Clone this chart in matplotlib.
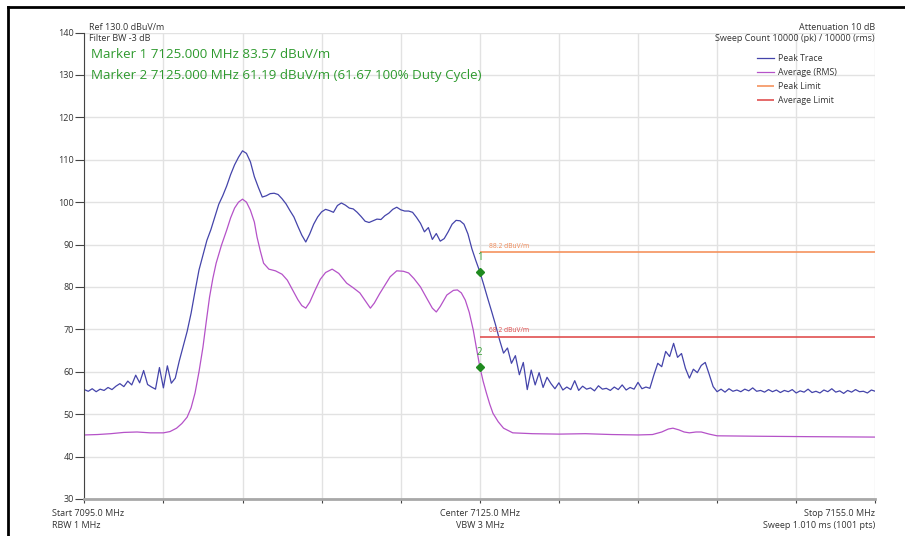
import matplotlib
matplotlib.use("Agg")
import matplotlib.pyplot as plt
import numpy as np
from matplotlib.lines import Line2D

plt.rcParams['font.family'] = ['Open Sans', 'DejaVu Sans']

# peak trace, read every 0.3 MHz from 7095 to 7155
peak_freq = [7095.0 + 0.3 * i for i in range(201)]
peak_level = [
    55.8, 55.4, 56.0, 55.3, 55.9, 55.6, 56.3, 55.8, 56.6, 57.2,
    56.5, 57.8, 56.9, 59.2, 57.4, 60.3, 57.0, 56.4, 55.9, 61.0,
    56.2, 61.4, 57.3, 58.5, 62.5, 66.0, 69.5, 73.8, 79.0, 84.0,
    87.5, 91.0, 93.5, 96.5, 99.5, 101.5, 103.8, 106.5, 108.8, 110.6,
    112.1, 111.5, 109.5, 106.0, 103.5, 101.2, 101.5, 102.0, 102.1, 101.8,
    100.8, 99.6, 98.0, 96.5, 94.3, 92.2, 90.6, 92.5, 94.8, 96.5,
    97.7, 98.3, 98.0, 97.6, 99.2, 99.8, 99.3, 98.6, 98.4, 97.6,
    96.6, 95.5, 95.2, 95.6, 96.0, 95.9, 96.8, 97.4, 98.3, 98.8,
    98.2, 97.9, 97.9, 97.6, 96.4, 95.0, 93.0, 94.0, 91.2, 92.6,
    90.8, 91.4, 93.0, 94.8, 95.7, 95.6, 94.8, 92.5, 89.0, 86.2,
    83.6, 80.5, 77.3, 74.2, 71.0, 67.5, 64.4, 65.6, 62.0, 63.8,
    59.3, 62.2, 55.8, 60.4, 56.9, 59.8, 56.3, 58.7, 57.2, 56.0,
    57.4, 55.7, 56.4, 55.8, 57.9, 55.6, 56.6, 55.9, 56.2, 55.5,
    56.7, 55.9, 56.1, 55.6, 56.4, 55.8, 56.9, 55.7, 56.3, 55.9,
    57.5, 56.0, 56.4, 56.1, 59.2, 62.0, 61.2, 64.8, 63.6, 66.7,
    63.4, 64.3, 60.8, 58.5, 60.6, 59.8, 61.5, 62.2, 59.4, 56.5,
    55.3, 55.9, 55.2, 56.0, 55.4, 55.7, 55.3, 55.9, 55.5, 56.2,
    55.4, 55.6, 55.2, 55.8, 55.3, 55.7, 55.1, 55.6, 55.3, 55.8,
    55.0, 55.5, 55.2, 55.9, 55.1, 55.4, 55.0, 55.7, 55.3, 56.0,
    55.2, 55.5, 54.9, 55.6, 55.2, 55.8, 55.3, 55.4, 55.0, 55.7,
    55.4,
]

# average (RMS) trace
avg_freq = [
    7095.0, 7096.0, 7097.0, 7098.0, 7099.0, 7100.0, 7101.0, 7101.5, 7102.0, 7102.4,
    7102.8, 7103.1, 7103.4, 7103.7, 7104.0, 7104.25, 7104.5, 7104.75, 7105.0, 7105.4,
    7105.8, 7106.1, 7106.4, 7106.7, 7107.0, 7107.3, 7107.6, 7107.9, 7108.1, 7108.35,
    7108.6, 7109.0, 7109.5, 7110.0, 7110.4, 7110.8, 7111.2, 7111.5, 7111.8, 7112.1,
    7112.5, 7112.9, 7113.3, 7113.8, 7114.3, 7114.9, 7115.4, 7115.9, 7116.3, 7116.7,
    7117.0, 7117.4, 7117.8, 7118.2, 7118.7, 7119.2, 7119.6, 7120.0, 7120.5, 7121.0,
    7121.4, 7121.7, 7122.0, 7122.5, 7123.0, 7123.3, 7123.6, 7123.9, 7124.2, 7124.5,
    7124.75, 7125.0, 7125.25, 7125.5, 7125.75, 7126.0, 7126.4, 7126.8, 7127.5, 7129.0,
    7131.0, 7133.0, 7135.0, 7137.0, 7138.1, 7138.8, 7139.3, 7139.65, 7140.1, 7140.5,
    7140.9, 7141.4, 7141.8, 7142.4, 7143.0, 7146.0, 7150.0, 7155.0,
]
avg_level = [
    45.1, 45.2, 45.4, 45.7, 45.8, 45.6, 45.6, 45.9, 46.7, 47.8,
    49.3, 51.5, 55.0, 60.0, 65.8, 71.8, 77.6, 82.0, 85.6, 89.8,
    93.4, 96.3, 98.6, 100.0, 100.7, 100.0, 98.1, 95.3, 91.8, 88.5,
    85.6, 84.2, 83.8, 83.0, 81.6, 79.3, 77.0, 75.6, 75.0, 76.4,
    79.2, 81.8, 83.4, 84.2, 83.2, 80.9, 79.8, 78.6, 76.8, 75.0,
    76.2, 78.4, 80.4, 82.4, 83.8, 83.7, 83.3, 82.0, 80.0, 77.2,
    75.0, 74.1, 75.4, 78.1, 79.2, 79.3, 78.6, 76.9, 74.0, 69.9,
    65.5, 61.2, 57.8, 55.0, 52.4, 50.2, 48.2, 46.7, 45.6, 45.4,
    45.3, 45.4, 45.2, 45.1, 45.2, 45.8, 46.5, 46.7, 46.3, 45.8,
    45.6, 45.8, 45.8, 45.3, 44.9, 44.8, 44.7, 44.6,
]

peak_limit = 88.2
avg_limit = 68.2
marker_freq = [7125.0, 7125.0]
marker_level = [83.57, 61.19]
marker_names = ['1', '2']

W, H = 905, 536
fig = plt.figure(figsize=(W / 100, H / 100), dpi=100)


def fx(px):
    return px / W


def fy(py):
    return 1 - py / H


ax = fig.add_axes([fx(84.3), fy(499), (875.3 - 84.3) / W, (499 - 32.5) / H])

p1, = ax.plot(peak_freq, peak_level, color='#4444aa', lw=0.9, label='Peak Trace')
p2, = ax.plot(avg_freq, avg_level, color='#b552c8', lw=0.9, label='Average (RMS)')
l1 = ax.hlines(peak_limit, 7125, 7155, color='#f5925e', lw=1.2, label='Peak Limit')
l2 = ax.hlines(avg_limit, 7125, 7155, color='#e05050', lw=1.2, label='Average Limit')
ax.text(7125.7, peak_limit + 0.6, '88.2 dBuV/m', fontsize=4.8, color='#f08a58', va='bottom')
ax.text(7125.7, avg_limit + 0.6, '68.2 dBuV/m', fontsize=4.8, color='#e04848', va='bottom')

ax.plot(marker_freq, marker_level, 'D', color='#1f8a1f', ms=4.5, zorder=5)
for f, v, n in zip(marker_freq, marker_level, marker_names):
    ax.annotate(n, (f, v), xytext=(0, 10), textcoords='offset points',
                ha='center', va='center', fontsize=7, color='#33a033')

ax.set_xlim(7095, 7155)
ax.set_ylim(30, 140)
ax.set_yticks(np.arange(30, 141, 10))
ax.set_xticks(np.arange(7095, 7156, 6))
ax.set_xticklabels([])
ax.grid(True, color='#e2e2e2', lw=1)
ax.set_axisbelow(True)
for s in ['top', 'right']:
    ax.spines[s].set_visible(False)
ax.spines['left'].set_color('#444444')
ax.spines['bottom'].set_color('#a8a8a8')
ax.spines['bottom'].set_linewidth(2)
ax.tick_params(axis='y', length=6.5, width=0.8, color='#444444', labelsize=6.5,
               labelcolor='#333333', pad=1)
ax.tick_params(axis='x', length=3, width=0.8, color='#444444')

leg = ax.legend(handles=[p1, p2, l1, l2], loc='upper left', bbox_to_anchor=(0.846, 0.962),
                frameon=False, fontsize=6.3, handlelength=1.9, handletextpad=0.55,
                labelspacing=0.6, borderaxespad=0)
for t in leg.get_texts():
    t.set_color('#333333')

small = dict(fontsize=6.5, color='#333333', va='center')
fig.text(fx(89), fy(27), 'Ref 130.0 dBuV/m', ha='left', **small)
fig.text(fx(89), fy(38.5), 'Filter BW -3 dB', ha='left', **small)
fig.text(fx(875), fy(27), 'Attenuation 10 dB', ha='right', **small)
fig.text(fx(875), fy(38.5), 'Sweep Count 10000 (pk) / 10000 (rms)', ha='right', **small)
fig.text(fx(91), fy(54), 'Marker 1 7125.000 MHz 83.57 dBuV/m', ha='left', va='center',
         fontsize=9.6, color='#2e9a2e')
fig.text(fx(91), fy(75), 'Marker 2 7125.000 MHz 61.19 dBuV/m (61.67 100% Duty Cycle)',
         ha='left', va='center', fontsize=9.6, color='#2e9a2e')

fig.text(fx(52), fy(514), 'Start 7095.0 MHz', ha='left', **small)
fig.text(fx(52), fy(525), 'RBW 1 MHz', ha='left', **small)
fig.text(fx(480), fy(514), 'Center 7125.0 MHz', ha='center', **small)
fig.text(fx(480), fy(525), 'VBW 3 MHz', ha='center', **small)
fig.text(fx(875), fy(514), 'Stop 7155.0 MHz', ha='right', **small)
fig.text(fx(875), fy(525), 'Sweep 1.010 ms (1001 pts)', ha='right', **small)

# black window frame
fig.add_artist(Line2D([fx(8), fx(8)], [fy(7), 0], color='black', lw=2))
fig.add_artist(Line2D([fx(8), 1], [fy(7), fy(7)], color='black', lw=2))

fig.savefig('out.png', dpi=100)
